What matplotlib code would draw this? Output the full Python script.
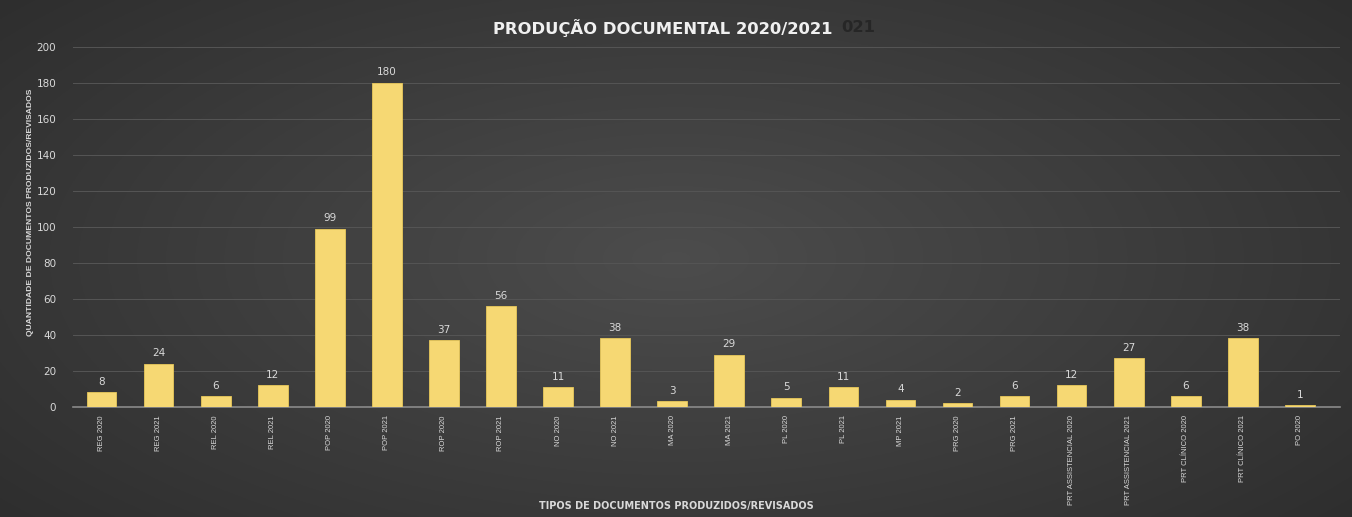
import numpy as np
import matplotlib
matplotlib.use("Agg")
import matplotlib.pyplot as plt

CATEGORIES = ["REG 2020", "REG 2021", "REL 2020", "REL 2021", "POP 2020", "POP 2021",
              "ROP 2020", "ROP 2021", "NO 2020", "NO 2021", "MA 2020", "MA 2021",
              "PL 2020", "PL 2021", "MP 2021", "PRG 2020", "PRG 2021",
              "PRT ASSISTENCIAL 2020", "PRT ASSISTENCIAL 2021",
              "PRT CLÍNICO 2020", "PRT CLÍNICO 2021", "PO 2020"]
VALUES = [8, 24, 6, 12, 99, 180, 37, 56, 11, 38, 3, 29, 5, 11, 4, 2, 6, 12, 27, 6, 38, 1]
Y_TICKS = list(range(0, 201, 20))

TXT = "#d9d9d9"

fig = plt.figure(figsize=(13.52, 5.17), dpi=100, facecolor="#2b2b2b")

# ── background radial gradient ────────────────────────────────────────────────
bg = fig.add_axes([0, 0, 1, 1], zorder=-10)
yy, xx = np.mgrid[-1:1:300j, -1:1:700j]
r = np.sqrt((xx / 1.1) ** 2 + (yy / 1.3) ** 2)
shade = np.clip(0.30 - 0.10 * r, 0.16, 0.30)
bg.imshow(np.dstack([shade, shade, shade]), aspect="auto", extent=[0, 1, 0, 1])
bg.axis("off")

ax = fig.add_axes([0.054, 0.213, 0.937, 0.697])
ax.set_facecolor("none")

x = np.arange(len(CATEGORIES))
bars = ax.bar(x, VALUES, width=0.52, color="#f6d873", edgecolor="#e8c85a", linewidth=0.6, zorder=3)
for xi, v in zip(x, VALUES):
    ax.text(xi, v + 3, str(v), ha="center", va="bottom", color=TXT, fontsize=7.5)

ax.set_xlim(-0.5, len(CATEGORIES) - 0.3)
ax.set_ylim(0, 200)
ax.set_yticks(Y_TICKS)
ax.tick_params(axis="y", colors=TXT, labelsize=7.5, length=0, pad=12)
ax.set_xticks(x)
ax.set_xticklabels(CATEGORIES, rotation=90, fontsize=5.5, color=TXT, family="Liberation Sans")
ax.tick_params(axis="x", length=0, pad=6)
ax.grid(axis="y", color="#555555", linewidth=0.7, zorder=0)
for s in ["top", "right", "left"]:
    ax.spines[s].set_visible(False)
ax.spines["bottom"].set_color("#8a8a8a")
ax.spines["bottom"].set_linewidth(1.2)

ax.set_ylabel("QUANTIDADE DE DOCUMENTOS PRODUZIDOS/REVISADOS", color=TXT, fontsize=6.1,
              fontweight="bold", family="Liberation Sans")
ax.yaxis.set_label_coords(-0.031, 0.54)

fig.text(0.5, 0.022, "TIPOS DE DOCUMENTOS PRODUZIDOS/REVISADOS", ha="center", va="center",
         color=TXT, fontsize=7, fontweight="bold")
fig.text(0.49, 0.946, "PRODUÇÃO DOCUMENTAL 2020/2021", ha="center", va="center",
         color="#f0f0f0", fontsize=11.8, fontweight="bold")
fig.text(0.622, 0.946, "021", ha="left", va="center", color="#262626", fontsize=11.8, fontweight="bold")

fig.savefig("out.png", dpi=100, facecolor=fig.get_facecolor())
